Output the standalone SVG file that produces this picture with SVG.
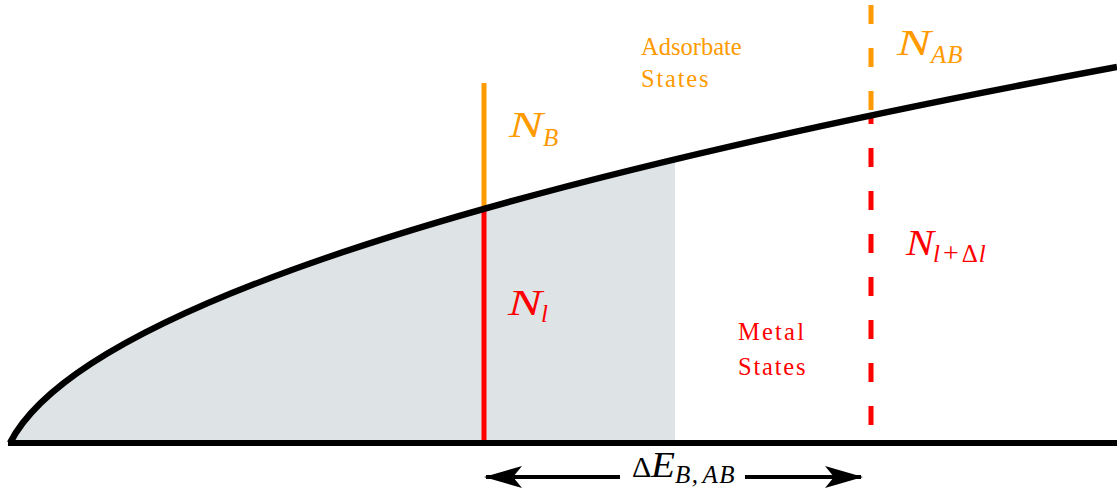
<svg xmlns="http://www.w3.org/2000/svg" width="1117" height="494" viewBox="0 0 1117 494">
<defs>
<style>
.curve{fill:none;stroke:#000;stroke-width:6.5}
.or{stroke:#ff9a00;fill:none}
.rd{stroke:#ff0000;fill:none}
.dash{stroke-width:5;stroke-dasharray:19 24}
.solid{stroke-width:5}
.lab{font-family:"Liberation Serif",serif;font-size:24.5px}
.math{font-family:"Liberation Serif",serif;font-style:italic;font-size:35px}
.sub{font-family:"Liberation Serif",serif;font-style:italic;font-size:25px}
.tor{fill:#ff9a00}
.trd{fill:#ff0000}
</style>
<marker id="ah" viewBox="0 0 38 22" refX="36" refY="11" markerWidth="38" markerHeight="22" markerUnits="userSpaceOnUse" orient="auto-start-reverse">
<path d="M0,0 L38,11 L0,22 L9,11 Z" fill="#000"/>
</marker>
</defs>
<rect width="1117" height="494" fill="#fff"/>
<g id="shade">
<path d="M10,443 Q82.16,301.18 675,159.36 L675,443 Z" fill="#dee3e6"/>
</g>
<g id="connectors">
<path class="or solid" d="M484,83 V209"/>
<path class="rd solid" d="M484,209 V443"/>
<path class="or dash" d="M871,5 V115.5"/>
<path class="rd dash" d="M871,115.5 V443" stroke-dashoffset="-32.5"/>
<path id="curve" class="curve" d="M10,443 Q105.69,254.94 1117,66.88"/>
<path id="baseline" d="M8,443 H1117" stroke="#000" stroke-width="6"/>
<path d="M620,477 H486" stroke="#000" stroke-width="4" marker-end="url(#ah)"/>
<path d="M745,477 H861" stroke="#000" stroke-width="4" marker-end="url(#ah)"/>
</g>
<g id="adsorbate-label">
<text class="lab tor" x="641" y="55">Adsorbate</text>
<text class="lab tor" x="641" y="87" letter-spacing="1.8">States</text>
</g>
<g id="metal-label">
<text class="lab trd" x="738" y="340" letter-spacing="2.2">Metal</text>
<text class="lab trd" x="738" y="375" letter-spacing="1.8">States</text>
</g>
<g id="NB">
<text class="math tor" x="509" y="137" textLength="34" lengthAdjust="spacingAndGlyphs">N</text>
<text class="sub tor" x="543" y="146" font-size="26">B</text>
</g>
<g id="NAB">
<text class="math tor" x="897" y="55" textLength="34" lengthAdjust="spacingAndGlyphs">N</text>
<text class="sub tor" x="931" y="63" letter-spacing="1">AB</text>
</g>
<g id="Nl">
<text class="math trd" x="508" y="315" textLength="34" lengthAdjust="spacingAndGlyphs">N</text>
<text class="sub trd" x="541" y="322">l</text>
</g>
<g id="Nldl">
<text class="math trd" x="906" y="255" textLength="28" lengthAdjust="spacingAndGlyphs">N</text>
<text class="sub trd" x="933" y="262">l<tspan font-style="normal" dx="3" font-size="28">+</tspan><tspan font-style="normal" dx="3">Δ</tspan><tspan dx="1">l</tspan></text>
</g>
<g id="dE">
<text x="632" y="477" font-family="Liberation Serif, serif" font-size="30">Δ</text>
<text class="math" x="651" y="477" font-size="30" textLength="24" lengthAdjust="spacingAndGlyphs">E</text>
<text class="sub" x="675" y="483" font-size="24" letter-spacing="1.5">B,<tspan dx="3">AB</tspan></text>
</g>
</svg>
